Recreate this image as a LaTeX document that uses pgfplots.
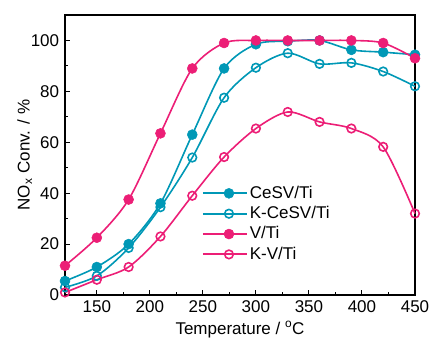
\documentclass[border=0pt]{standalone}
\usepackage{fontspec}
\setmainfont{Liberation Sans}
\usepackage{pgfplots}
\pgfplotsset{compat=1.18}
\definecolor{teal1}{RGB}{0,152,182}
\definecolor{pink1}{RGB}{236,30,118}
\begin{document}
\fontsize{17bp}{20bp}\selectfont
\begin{tikzpicture}
\begin{axis}[
  scale only axis, width=350bp, height=280bp,
  xmin=120, xmax=450, ymin=0, ymax=110,
  xtick={150,200,...,450}, ytick={0,20,...,100},
  minor x tick num=1, minor y tick num=1,
  tick pos=left, tick align=inside,
  major tick length=5bp, minor tick length=3bp,
  axis line style={line width=1.5bp},
  every tick/.style={black, line width=1bp},
  tick label style={font=\fontsize{17bp}{20bp}\selectfont},
  /pgf/number format/assume math mode=true,
  label style={font=\fontsize{17bp}{20bp}\selectfont},
  xlabel={Temperature / \textsuperscript{o}C},
  ylabel={NO\textsubscript{x} Conv. / \%},
  xlabel style={yshift=3bp},
  ylabel style={yshift=-13bp},
  legend style={draw=none, fill=none, at={(axis cs:249,44.5)}, anchor=north west,
    font=\fontsize{17bp}{20bp}\selectfont, row sep=1.5bp, inner xsep=0pt,
    /tikz/every even column/.append style={column sep=14bp}},
  legend cell align=left,
  legend image code/.code={
    \draw[#1, mark=none, line width=1.9bp] (0bp,0bp) -- (44bp,0bp);
    \draw[#1, only marks] plot coordinates {(26bp,0bp)};},
  clip=false,
]
\addplot[teal1, line width=1.6bp, smooth, mark=*, mark size=5bp, mark options={fill=teal1, draw=teal1, line width=0.5bp}]
coordinates {(120,5.5)(150,11)(180,20)(210,36)(240,63)(270,89)(300,98.5)(330,99.7)(360,100)(390,96.3)(420,95.4)(450,94.4)};
\addlegendentry{CeSV/Ti}
\addplot[teal1, line width=1.6bp, smooth, mark=o, mark size=4.3bp, mark options={fill=white, line width=1.6bp}]
coordinates {(120,3)(150,7.5)(180,18.5)(210,34.5)(240,54)(270,77.5)(300,89.3)(330,95)(360,90.8)(390,91.2)(420,87.8)(450,82)};
\addlegendentry{K-CeSV/Ti}
\addplot[pink1, line width=1.6bp, smooth, mark=*, mark size=5bp, mark options={fill=pink1, draw=pink1, line width=0.5bp}]
coordinates {(120,11.5)(150,22.5)(180,37.5)(210,63.5)(240,89)(270,99)(300,100)(330,100)(360,100)(390,100)(420,99)(450,93)};
\addlegendentry{V/Ti}
\addplot[pink1, line width=1.6bp, smooth, mark=o, mark size=4.3bp, mark options={fill=white, line width=1.6bp}]
coordinates {(120,1)(150,6)(180,11)(210,23)(240,39)(270,54.2)(300,65.4)(330,71.9)(360,68)(390,65.4)(420,58.2)(450,32)};
\addlegendentry{K-V/Ti}
\end{axis}
\pgfresetboundingbox
\path ([shift={(-65bp,-46bp)}]current axis.south west) rectangle ([shift={(15bp,15bp)}]current axis.north east);
\end{tikzpicture}
\end{document}
